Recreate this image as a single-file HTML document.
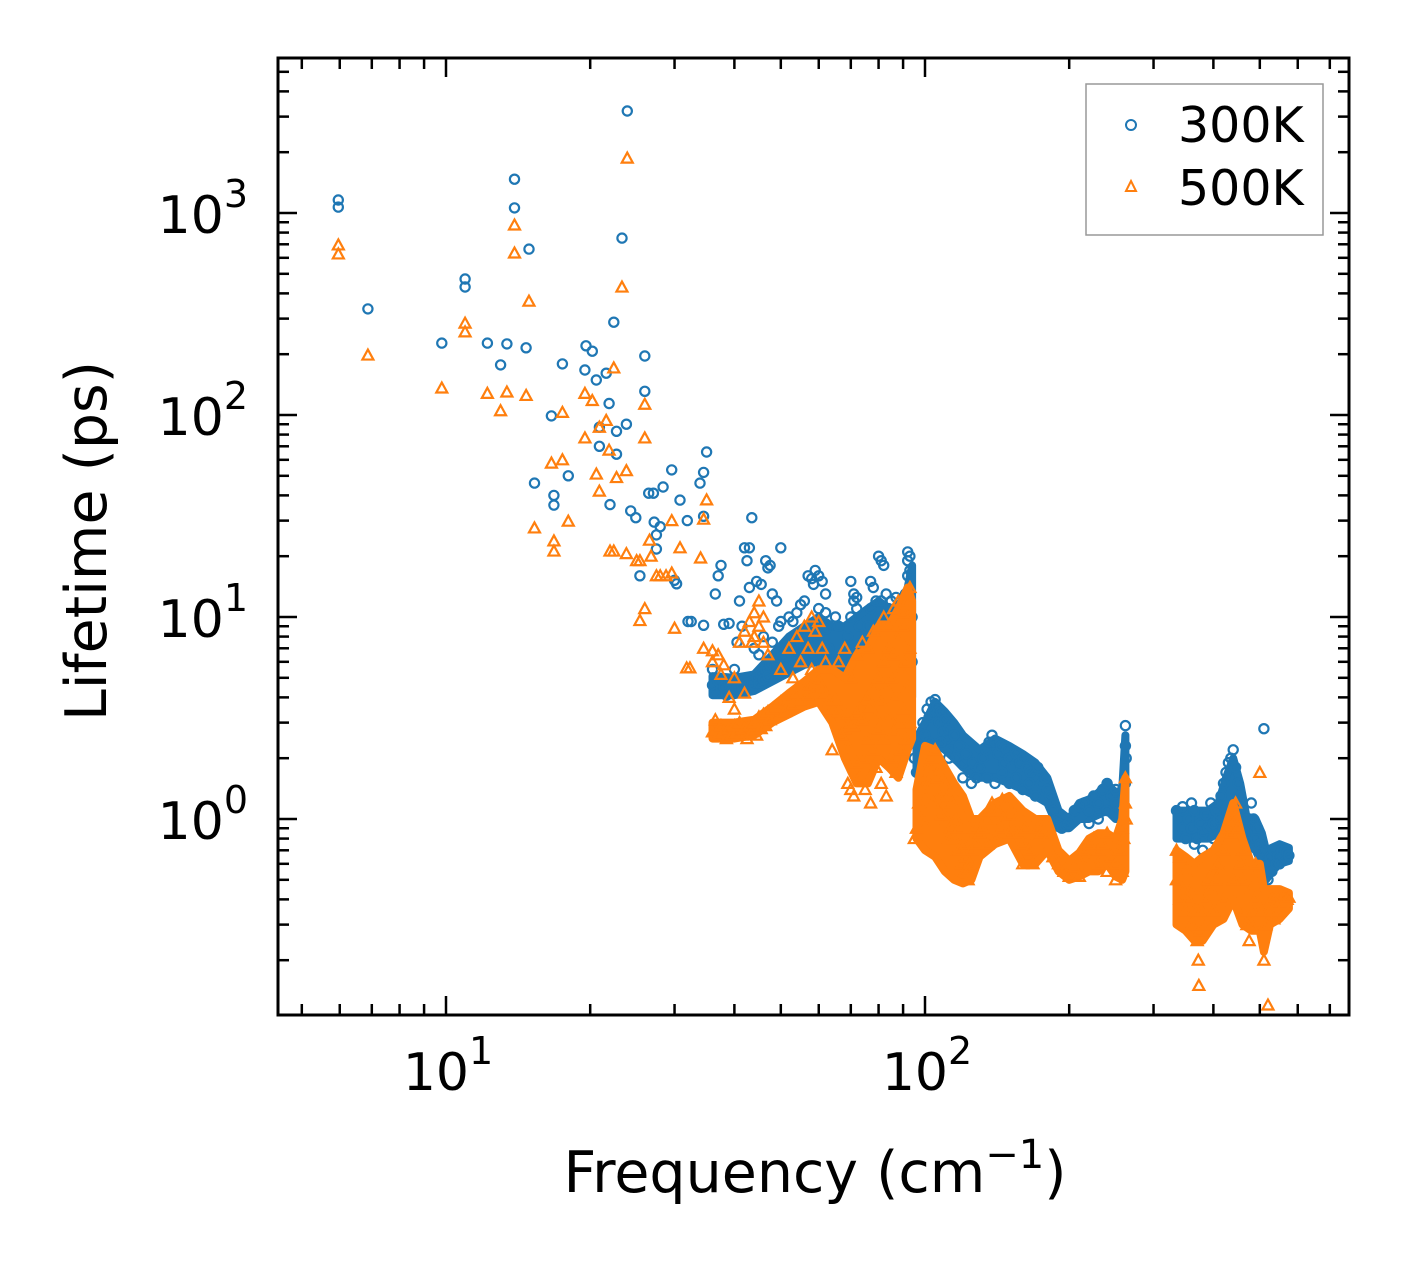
<!DOCTYPE html>
<html><head><meta charset="utf-8"><style>
html,body{margin:0;padding:0;background:#fff;}
svg{display:block;font-family:"DejaVu Sans","Liberation Sans",sans-serif;}
</style></head><body>
<svg id="chart" width="1408" height="1265" viewBox="0 0 1408 1265" xmlns="http://www.w3.org/2000/svg">
<rect width="1408" height="1265" fill="#fff"/>
<g id="marks"></g>
<g id="axes"></g>
<rect x="278" y="58" width="1071" height="957" fill="none" stroke="#000" stroke-width="3"/>
<g>
<rect x="1086" y="84" width="237" height="151" fill="#fff" stroke="#999" stroke-width="1.5"/>
<circle cx="1131" cy="125" r="5" fill="none" stroke="#1f77b4" stroke-width="2"/>
<text x="1178" y="142" font-size="49">300K</text>
<polygon points="1131,181 1136,191 1126,191" fill="none" stroke="#ff7f0e" stroke-width="2"/>
<text x="1178" y="205" font-size="49">500K</text>
</g>
<text x="815" y="1192" font-size="57" text-anchor="middle">Frequency (cm<tspan font-size="40" dy="-24">−1</tspan><tspan dy="24">)</tspan></text>
<text transform="translate(106,541) rotate(-90)" font-size="57" text-anchor="middle">Lifetime (ps)</text>
</svg>
<script>
const xTicks=[10,100];
const yTicks=[1,10,100,1000];
const xTickExp=["1","2"];
const yTickExp=["0","1","2","3"];
// dense-cloud envelopes (freq, lower lifetime, upper lifetime)
const band300AFreq=[36,40,44,48,52,56,60,64,68,72,76,80,84,88,92,94];
const band300ALo=[4.1,4.1,4.3,4.8,5.3,5.8,6,5,4,3.5,3.5,3.8,4,4.2,4,4];
const band300AHi=[5.1,5.0,5.2,6.5,8,9,10,9,9,10,11,12,11,11,14,18];
const band300BFreq=[96,100,105,110,115,120,130,140,150,160,170,180,190,200,210,220,230,240,250,258,262];
const band300BLo=[1.7,2,2.4,2.2,2,1.8,1.6,1.6,1.5,1.4,1.3,1.2,0.9,0.9,1.0,1.0,1.05,1.1,1.0,1.0,1.2];
const band300BHi=[2.5,3,3.8,3.4,3,2.6,2.2,2.5,2.3,2.1,1.9,1.6,1.1,1.0,1.2,1.25,1.35,1.5,1.35,1.4,2.6];
const band300CFreq=[335,360,390,410,425,440,455,470,490,505,515,530,550,575];
const band300CLo=[0.8,0.8,0.8,0.85,0.9,1.0,0.9,0.75,0.7,0.6,0.5,0.55,0.6,0.62];
const band300CHi=[1.1,1.1,1.1,1.2,1.6,2.0,1.5,1.0,1.0,0.85,0.7,0.72,0.75,0.72];
const band500AFreq=[36,40,44,48,52,56,60,64,68,72,76,80,84,88,92,94];
const band500ALo=[2.5,2.5,2.6,3,3.3,3.6,3.8,3.0,2.0,1.5,1.5,2.0,1.8,1.6,2.2,2.5];
const band500AHi=[3.0,3.0,3.1,3.6,4.2,4.8,5.5,5.5,5,6.5,7,9,9,11,14,12];
const band500BFreq=[96,100,105,110,115,120,125,130,140,150,160,170,180,190,200,210,220,230,240,250,258,262];
const band500BLo=[0.8,0.7,0.65,0.55,0.5,0.48,0.5,0.65,0.75,0.8,0.6,0.6,0.7,0.55,0.5,0.52,0.55,0.55,0.6,0.52,0.5,0.55];
const band500BHi=[1.4,2.3,2.2,1.8,1.5,1.3,1.0,1.0,1.2,1.3,1.1,1.0,1.0,0.7,0.62,0.68,0.8,0.85,0.85,0.8,1.0,1.6];
const band500CFreq=[335,350,365,380,400,420,440,460,480,500,510,525,550,575];
const band500CLo=[0.3,0.28,0.25,0.25,0.3,0.32,0.4,0.3,0.28,0.28,0.22,0.3,0.32,0.36];
const band500CHi=[0.7,0.65,0.6,0.65,0.7,0.85,1.2,0.8,0.6,0.6,0.45,0.45,0.45,0.43];

const s300Sparse=[[5.96,1160],[5.96,1070],[6.87,335],[9.8,227],[10.96,471],[10.96,430],[12.2,227],[13.0,177],[13.4,225],[13.9,1470],[13.9,1060],[14.7,215],[14.9,663],[15.3,46],[16.6,99],[16.8,40],[16.8,35.8],[17.5,179],[18,50],[19.5,167],[19.6,220],[20.2,207],[20.6,149],[20.9,87],[20.9,70],[21.6,161],[21.9,114],[22,36],[22.4,288],[22.7,64],[22.7,83],[23.3,751],[23.8,90],[23.9,3200],[24.3,33.5],[24.9,31],[25.4,16],[26,196],[26,131],[26.5,41],[27.1,41],[27.2,29.5],[27.5,25.5],[27.5,21.7],[28,28],[28.4,44],[29.6,53.5],[30,15.2],[30.3,14.6],[30.8,37.9],[31.9,30],[32,9.5],[32.5,9.5],[33.9,46],[34.5,52],[34.5,31.5],[34.5,9.1],[35,65.6]];
const s300Low=[[36,4.6],[36.5,4.2],[37,4.8],[37.5,4.4],[38,4.5],[38.5,4.1],[39,4.7],[39.5,4.3],[40,4.6],[40.5,4.4],[41,4.9],[41.5,4.5],[42,4.3],[42.5,4.7],[43,4.5],[43.5,4.8],[44,4.6],[44.5,5.0],[45,4.7],[45.5,5.2],[46,4.9],[46.5,5.5],[47,5.1],[47.5,5.8],[36,5.5],[36.5,13],[37,16],[37.5,18],[38,9.2],[39,9.3],[40,5.5],[40.5,7.5],[41,12],[41.5,9],[42,22],[42.5,19],[43,22],[43.5,31],[43,14],[44,7],[44.5,15],[45,6.5],[45.5,14.5],[46,8],[46.5,19],[47,17.5],[47.5,18],[48,13],[48,7.5],[49,12],[50,22],[49.5,9],
[48.5,5.6],[49,6],[50,6.3],[51,5.8],[52,6.5],[53,7],[54,6.8],[55,7.5],[56,7.2],[57,8],[58,7.8],[59,8.5],[60,8.2],[61,9],[62,8.7],[50,9.5],[52,10],[53,9.5],[54,10.5],[55,11.5],[56,12],[57,16],[58,15.5],[58.5,14.5],[59,17],[60,16],[61,15],[62,13],[60,11],[62,10.5],[50,5.2],[55,6],[58,6.5],[60,6],[62,6.5],[65,10],[66,9],[64,6],
[63,7],[64,5.5],[65,4.5],[66,5],[67,6],[68,3.5],[68.5,4],[69,8],[70,10],[71,12],[72,11],[73,9],[74,7],[75,8],[70,15],[71,13],[72,12.5],[69,2.8],[70,2.5],[71,3],[72,2.4],[73,3.2],[74,4],[66,5.5],[67,3.8]];
const s300Mid=[[76,5],[76,9],[77,11],[77,15],[78,14],[78,7],[79,12],[79,6],[80,20],[80,10],[81,19],[81,8],[82,18],[82,9.5],[83,13],[83,6.5],[84,11],[84,9],[85,8],[85,5],[86,10],[86,7],[87,9],[87,5.5],[88,11],[88,8],[89,12],[89,6],[90,10],[90,7],[91,13],[91,4],[92,21],[92,19],[92,16],[92,12],[92,9],[93,20],[93,17],[93,14],[93,11],[93,8],[94,10],[94,6],[78,4],[80,3.5],[82,3],[84,4.5],[86,3.2],[88,3.6],[90,4.2],[76,3],[75,5.5],[77,6],[79,9],[81,12],[83,10],[85,12],[87,12.5],[89,9],
[95,2],[96,1.7],[97,2.5],[98,2.2],[99,3],[100,2.6],[101,3.5],[102,3.2],[103,3.8],[104,3.3],[105,3.9],[100,1.9],[102,2.4],
[106,3.6],[107,3.0],[108,3.4],[109,2.7],[110,3.1],[111,2.5],[112,2.8],[113,2.2],[115,2.6],[116,2.0],[118,2.3],[120,1.9],[122,2.1],[124,1.7],[126,1.9],[128,1.6],[130,1.8],[108,2.4],[112,2.0],[120,1.6],[125,1.5],
[132,2.0],[134,2.2],[136,2.4],[138,2.6],[140,2.4],[142,2.1],[144,2.3],[146,1.9],[148,2.2],[150,2.0],[152,1.8],[155,2.1],[158,1.9],[160,2.0],[163,1.8],[166,1.7],[170,1.6],[172,1.8],[175,1.5],[178,1.6],[180,1.4],[135,1.6],[140,1.5],[145,1.7],[150,1.5],[160,1.4],[170,1.3],[155,1.6],[165,1.5],[182,1.3],[185,1.1],
[188,1.0],[190,0.95],[193,0.9],[196,0.92],[199,0.95]];
const s300High=[[205,1.1],[210,1.15],[215,1.2],[220,1.1],[225,1.3],[230,1.2],[235,1.4],[240,1.5],[245,1.3],[250,1.2],[255,1.1],[258,1.2],[260,1.0],[262,2.3],[262,2.9],[263,2.0],[262,1.5],[240,1.1],[230,1.0],[250,1.4],[220,0.95],
[335,1.1],[340,1.0],[345,0.9],[350,0.8],[355,1.0],[360,0.9],[365,1.1],[370,0.8],[375,0.95],[380,0.85],[385,1.05],[390,0.9],[395,1.2],[400,0.95],[405,1.1],[410,1.0],[415,1.3],[420,1.5],[425,1.7],[430,1.9],[435,2.0],[440,2.2],[445,1.8],[450,1.5],[455,1.3],[460,1.1],[465,0.9],[470,0.85],[475,1.0],[480,1.2],[485,1.0],[490,0.8],[495,0.9],[500,0.75],[505,0.7],[510,2.8],[365,0.75],[380,0.7],[400,0.8],[420,0.9],[440,1.0],[460,0.8],[345,1.15],[360,1.2],
[515,0.6],[520,0.5],[525,0.65],[530,0.55],[535,0.7],[540,0.6],[545,0.65],[550,0.6],[555,0.7],[560,0.65],[565,0.7],[570,0.68],[575,0.66]];
const s500Sparse=[[5.96,695],[5.96,627],[6.87,198],[9.8,136],[10.96,285],[10.96,258],[12.2,128],[13.0,105],[13.4,130],[13.9,872],[13.9,634],[14.7,125],[14.9,366],[15.3,27.6],[16.6,57.8],[16.8,23.8],[16.8,21.2],[17.5,60],[17.5,103],[18,29.8],[19.5,77],[19.5,128],[20.2,118],[20.6,51],[20.9,42],[20.9,87],[21.6,94],[21.9,67],[22,21.2],[22.4,21.2],[22.4,171],[22.7,49],[23.3,430],[23.8,53],[23.9,1870],[23.8,20.6],[25,19],[25.4,19],[26,113],[26,77],[25.4,9.6],[26,11],[26.6,24],[26.8,20],[27.5,16],[28,16],[28.8,16],[29.6,16.5],[29.6,30],[30,8.8],[30.8,22],[31.8,5.6],[32.3,5.6],[34,19.6],[34.5,30.5],[35,38],[34.5,7]];
const s500Low=[[36,2.7],[36.5,3.1],[37,2.6],[37.5,2.9],[38,2.7],[38.5,2.5],[39,2.8],[39.5,2.6],[40,2.9],[40.5,2.7],[41,3.0],[41.5,2.6],[42,2.8],[42.5,2.5],[43,2.9],[43.5,2.7],[44,3.0],[44.5,2.6],[45,3.2],[45.5,2.8],[46,3.3],[46.5,2.9],[47,3.4],[47.5,3.1],[36,6],[37,6.5],[38,5.8],[39,4],[40,5],[41,7.5],[42,8.5],[43,9.5],[43.5,7.5],[44,8],[45,9],[46,7.5],[44,10.5],[45,12],[47,6.5],[46,10],[40,3.5],[42,4.2],[36,6.8],[37.5,5.2],
[48,3.5],[49,3.6],[50,3.8],[51,3.4],[52,4.0],[53,3.7],[54,4.2],[55,3.9],[56,4.4],[57,4.1],[58,4.6],[59,4.3],[60,4.8],[61,4.5],[62,4.2],[50,5.5],[52,7],[54,8],[55,6],[56,9],[57,7],[58,10],[59,8.5],[60,9.5],[61,7],[62,6],[53,5],[58,5.5]];
const s500Mid=[[63,3.8],[64,3.5],[65,3.9],[66,3.4],[67,3.2],[68,2.8],[69,3.3],[70,3.0],[71,2.9],[72,3.3],[73,3.5],[74,3.1],[75,3.8],[76,4.0],[77,3.6],[78,4.5],[79,3.2],[80,5],[81,3.8],[82,6],[83,4.5],[84,7],[85,5],[86,6.5],[87,4],[88,8],[89,5.5],[90,9],[91,6],[92,10],[93,7],[92,4.5],[93,3],[90,3.5],[88,3],[86,2.7],[84,3.2],[82,2.5],[80,2.8],[78,2.2],[76,2.5],[74,2],[72,1.9],[70,1.4],[69,1.5],[71,1.3],[73,1.6],[75,1.4],[77,1.2],[79,1.8],[81,1.5],[83,1.3],[85,2.0],[87,1.7],[89,2.2],[91,2.5],[66,6],[68,7],[70,5],[72,6.5],[74,7.5],[76,7],[78,8.5],[80,9],[82,10],[84,9],[86,11],[88,12],[90,10.5],[92,12],[93,14],[69,2.3],[67,2.6],[64,2.2],
[95,0.8],[96,0.9],[97,1.2],[98,1.0],[99,1.5],[100,1.3],[101,1.8],[102,1.5],[103,2.0],[104,1.7],[105,2.2],[106,1.6],[107,1.3],[108,1.8],[109,1.2],[110,1.5],[111,1.0],[112,1.3],[113,0.9],[114,1.2],[115,0.8],[116,1.0],[117,0.7],[118,0.9],[119,0.6],[120,0.75],[121,0.55],[122,0.65],[123,0.5],[124,0.6],[125,0.7],[126,0.8],[127,0.9],[128,0.75],[130,0.85],[104,1.2],[108,1.05],[100,0.95],[112,0.8],[118,0.7],[123,0.55]];
const s500High=[[132,0.9],[134,1.0],[136,1.1],[138,1.2],[140,1.0],[142,1.1],[144,0.9],[146,1.0],[148,1.2],[150,1.05],[152,0.9],[155,1.0],[158,0.85],[160,0.75],[162,0.9],[165,0.7],[168,0.6],[170,0.8],[172,0.9],[175,0.85],[178,0.95],[180,0.8],[140,0.8],[150,0.85],[160,0.6],[135,0.75],[145,1.25],
[185,0.65],[190,0.6],[195,0.55],[200,0.52],[205,0.58],[210,0.62],[215,0.7],[220,0.75],[225,0.8],[230,0.7],[235,0.75],[240,0.85],[245,0.65],[250,0.6],[255,0.7],[258,0.9],[260,0.8],[262,1.6],[262,1.2],[263,1.0],[250,0.5],[240,0.55],[230,0.6],[220,0.62],[210,0.52],[258,0.55],
[335,0.5],[340,0.4],[345,0.45],[350,0.35],[355,0.4],[360,0.3],[365,0.35],[370,0.25],[372,0.2],[373,0.15],[375,0.28],[378,0.35],[380,0.45],[385,0.4],[390,0.5],[395,0.45],[400,0.55],[405,0.5],[410,0.6],[415,0.55],[420,0.7],[425,0.8],[430,0.9],[435,0.85],[440,1.0],[445,1.2],[450,0.9],[455,0.6],[460,0.5],[465,0.35],[470,0.3],[475,0.25],[480,0.3],[485,0.35],[490,0.4],[495,0.55],[500,1.7],[505,0.35],[510,0.2],[340,0.65],[350,0.55],[360,0.45],[380,0.3],[400,0.35],[420,0.4],[440,0.5],[460,0.7],[480,0.45],[490,0.6],[335,0.7],
[515,0.3],[520,0.12],[525,0.35],[530,0.4],[535,0.32],[540,0.38],[545,0.42],[550,0.35],[555,0.4],[560,0.38],[565,0.42],[570,0.4],[575,0.41]];

const NS='http://www.w3.org/2000/svg';
const X0=278,X1=1349,Y0=58,Y1=1015;
function xs(f){return 446+(Math.log10(f)-1)*479;}
function ys(t){return 213-(Math.log10(t)-3)*202;}
const marks=document.getElementById('marks');
const axes=document.getElementById('axes');
function mk(tag,attrs,parent){const e=document.createElementNS(NS,tag);for(const k in attrs)e.setAttribute(k,attrs[k]);parent.appendChild(e);return e;}

function band(parent,fr,lo,hi,color,name){
  const pts=[];
  for(let i=0;i<fr.length;i++)pts.push(xs(fr[i]).toFixed(1)+','+ys(hi[i]).toFixed(1));
  for(let i=fr.length-1;i>=0;i--)pts.push(xs(fr[i]).toFixed(1)+','+ys(lo[i]).toFixed(1));
  const p=mk('polygon',{points:pts.join(' '),fill:color,stroke:color,'stroke-width':8,'stroke-linejoin':'round'},parent);
  
  
}

const g300=mk('g',{},marks);


band(g300,band300AFreq,band300ALo,band300AHi,'#1f77b4','dense-cloud-300k');
band(g300,band300BFreq,band300BLo,band300BHi,'#1f77b4','dense-cloud-300k');
band(g300,band300CFreq,band300CLo,band300CHi,'#1f77b4','dense-cloud-300k');
[s300Sparse,s300Low,s300Mid,s300High].forEach(arr=>arr.forEach(p=>{
  const c=mk('circle',{cx:xs(p[0]).toFixed(1),cy:ys(p[1]).toFixed(1),r:4.6,fill:'none',stroke:'#1f77b4','stroke-width':2.2},g300);
  
  
}));
const g500=mk('g',{},marks);


band(g500,band500AFreq,band500ALo,band500AHi,'#ff7f0e','dense-cloud-500k');
band(g500,band500BFreq,band500BLo,band500BHi,'#ff7f0e','dense-cloud-500k');
band(g500,band500CFreq,band500CLo,band500CHi,'#ff7f0e','dense-cloud-500k');
[s500Sparse,s500Low,s500Mid,s500High].forEach(arr=>arr.forEach(p=>{
  const x=xs(p[0]),y=ys(p[1]);
  const t=mk('polygon',{points:`${x},${y-5.5} ${x+5.5},${y+4.5} ${x-5.5},${y+4.5}`,fill:'none',stroke:'#ff7f0e','stroke-width':2.2},g500);
  
  
}));

function line(x1,y1,x2,y2){return mk('line',{x1,y1,x2,y2,stroke:'#000','stroke-width':2.5},axes);}
for(let d=0;d<=2;d++){
  for(let m=1;m<10;m++){
    const v=m*Math.pow(10,d);const x=xs(v);
    if(x<X0||x>X1)continue;
    const L=m===1?19:11;
    const a=line(x,Y1,x,Y1-L);
    const b=line(x,Y0,x,Y0+L);
  }
}
for(let d=-1;d<=3;d++){
  for(let m=1;m<10;m++){
    const v=m*Math.pow(10,d);const y=ys(v);
    if(y<Y0||y>Y1)continue;
    const L=m===1?19:11;
    const a=line(X0,y,X0+L,y);
    const b=line(X1,y,X1-L,y);
  }
}
xTicks.forEach((v,i)=>{
  const t=mk('text',{x:xs(v)+2,y:1090,'font-size':52,'text-anchor':'middle'},axes);
  
  
  t.innerHTML='10<tspan font-size="38" dy="-26">'+xTickExp[i]+'</tspan>';
});
yTicks.forEach((v,i)=>{
  const t=mk('text',{x:248,y:ys(v)+20,'font-size':52,'text-anchor':'end'},axes);
  
  
  t.innerHTML='10<tspan font-size="38" dy="-26">'+yTickExp[i]+'</tspan>';
});
</script>
</body></html>
